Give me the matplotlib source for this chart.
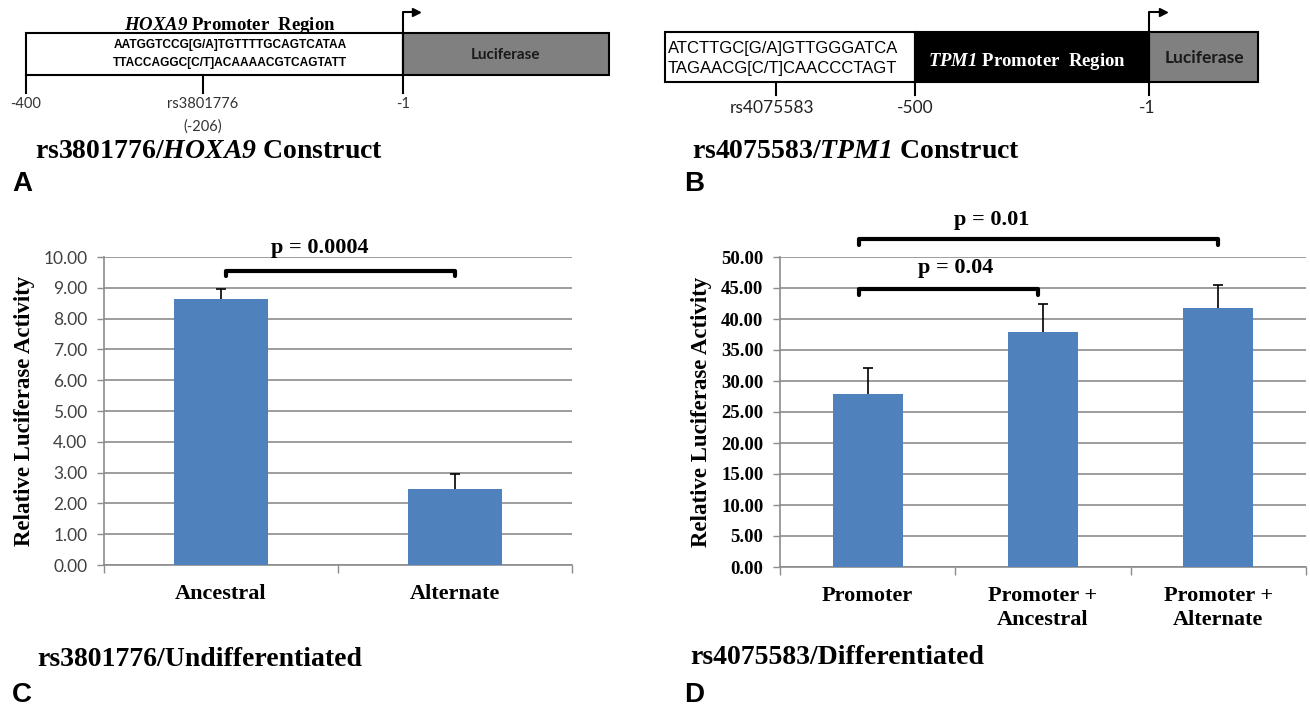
import numpy as np
import matplotlib
matplotlib.use("Agg")
import matplotlib.pyplot as plt
from matplotlib import font_manager
from matplotlib.patches import Rectangle

# --- data ---------------------------------------------------------------
c_groups = ["Ancestral", "Alternate"]
c_values = [8.65, 2.47]
c_errors = [0.32, 0.49]
c_ticks = [0, 1, 2, 3, 4, 5, 6, 7, 8, 9, 10]
c_pvalue = "p = 0.0004"

d_groups = ["Promoter", "Promoter +\nAncestral", "Promoter +\nAlternate"]
d_values = [27.9, 37.9, 41.8]
d_errors = [4.15, 4.5, 3.7]
d_ticks = [0, 5, 10, 15, 20, 25, 30, 35, 40, 45, 50]
d_pvalues = ["p = 0.04", "p = 0.01"]

titles = ["rs3801776/$\\mathit{HOXA9}$ Construct", "rs4075583/$\\mathit{TPM1}$ Construct",
          "rs3801776/Undifferentiated", "rs4075583/Differentiated"]
panel_letters = ["A", "B", "C", "D"]
hoxa9_seq = ["AATGGTCCG[G/A]TGTTTTGCAGTCATAA", "TTACCAGGC[C/T]ACAAAACGTCAGTATT"]
tpm1_seq = ["ATCTTGC[G/A]GTTGGGATCA", "TAGAACG[C/T]CAACCCTAGT"]

# --- fonts --------------------------------------------------------------
installed = {f.name for f in font_manager.fontManager.ttflist}
SERIF = "Liberation Serif"
SANS = "Lato" if "Lato" in installed else "Liberation Sans"
NARROW = "Liberation Sans Narrow" if "Liberation Sans Narrow" in installed else "Liberation Sans"
# mathtext is only used for the italic gene names, digits included
plt.rcParams["mathtext.fontset"] = "custom"
plt.rcParams["mathtext.rm"] = "Liberation Serif:italic:bold"
plt.rcParams["mathtext.it"] = "Liberation Serif:italic:bold"

BLUE = "#4F81BD"
GRID = "#8c8c8c"

fig = plt.figure(figsize=(13.1, 7.09), dpi=100)

# overlay in pixel coordinates for the construct diagrams and labels
ov = fig.add_axes([0, 0, 1, 1])
ov.set_xlim(0, 1310)
ov.set_ylim(709, 0)
ov.axis("off")

# HOXA9 construct (A)
ov.add_patch(Rectangle((26, 33), 377, 42, facecolor="white", edgecolor="black", lw=1.5))
ov.add_patch(Rectangle((403, 33), 206, 42, facecolor="#808080", edgecolor="black", lw=1.5))
ov.plot([26, 26], [75, 93], color="black", lw=1.5)
ov.plot([203, 203], [75, 93], color="black", lw=1.5)
ov.plot([403, 403, 414], [93, 12, 12], color="black", lw=1.5)
ov.plot([416], [12], marker=">", ms=6, color="black")
ov.text(230, 25, "$\\mathit{HOXA9}$ Promoter  Region", ha="center", va="center",
        fontsize=13.5, family=SERIF, weight="bold")
for i, s in enumerate(hoxa9_seq):
    ov.text(230, 45 + 18 * i, s, ha="center", va="center", fontsize=8.6,
            family=NARROW, weight="bold")
ov.text(506, 55, "Luciferase", ha="center", va="center", fontsize=11,
        family=SANS, weight="bold", color="#1a1a1a")
for x, s in [(26, "-400"), (203, "rs3801776"), (403, "-1")]:
    ov.text(x, 104, s, ha="center", va="center", fontsize=10.5, family=SANS, color="#333333")
ov.text(203, 127, "(-206)", ha="center", va="center", fontsize=10.5, family=SANS, color="#333333")

# TPM1 construct (B)
ov.add_patch(Rectangle((665, 32), 250, 50, facecolor="white", edgecolor="black", lw=1.5))
ov.add_patch(Rectangle((915, 32), 234, 50, facecolor="black", edgecolor="black", lw=1.5))
ov.add_patch(Rectangle((1149, 32), 109, 50, facecolor="#808080", edgecolor="black", lw=1.5))
ov.plot([776, 776], [82, 95], color="black", lw=1.5)
ov.plot([915, 915], [82, 95], color="black", lw=1.5)
ov.plot([1149, 1149, 1161], [95, 12, 12], color="black", lw=1.5)
ov.plot([1163], [12], marker=">", ms=6, color="black")
for i, s in enumerate(tpm1_seq):
    ov.text(668, 48 + 20 * i, s, ha="left", va="center", fontsize=12, family=NARROW)
ov.text(1027, 62, "$\\mathit{TPM1}$ Promoter  Region", ha="center", va="center",
        fontsize=13.5, family=SERIF, weight="bold", color="white")
ov.text(1204, 58, "Luciferase", ha="center", va="center", fontsize=12.5,
        family=SANS, weight="bold", color="#1a1a1a")
for x, s in [(772, "rs4075583"), (915, "-500"), (1147, "-1")]:
    ov.text(x, 108, s, ha="center", va="center", fontsize=12.5, family=SANS, color="#222222")

# titles and panel letters
for (x, y), t in zip([(35, 152), (692, 152), (37, 659), (690, 657)], titles):
    ov.text(x, y, t, ha="left", va="center", fontsize=20, family=SERIF, weight="bold")
for (x, y), l in zip([(12, 184), (684, 184), (12, 695), (684, 695)], panel_letters):
    ov.text(x, y, l, ha="left", va="center", fontsize=20, family="Liberation Sans", weight="bold")


def bar_panel(ax, groups, values, errors, ticks, tick_font, label_x):
    n = len(groups)
    x = np.arange(n)
    # symmetric error bar drawn behind the bar, so only the upper half shows
    ax.errorbar(x, values, yerr=errors, fmt="none", ecolor="black", elinewidth=1.2,
                capsize=3.5, capthick=1.2, zorder=2)
    ax.bar(x, values, width=0.4, color=BLUE, zorder=3)
    ax.set_xlim(-0.5, n - 0.5)
    ax.set_ylim(ticks[0], ticks[-1])
    ax.set_yticks(ticks)
    ax.set_yticklabels(["%.2f" % t for t in ticks], **tick_font)
    ax.set_xticks(np.arange(n + 1) - 0.5)
    ax.set_xticklabels([])
    ax.set_xticks(x, minor=True)
    ax.set_xticklabels(groups, minor=True, family=SERIF, weight="bold", fontsize=16,
                       linespacing=1.25)
    ax.tick_params(axis="x", which="major", length=6, color=GRID, width=1)
    ax.tick_params(axis="x", which="minor", length=0, pad=14)
    ax.tick_params(axis="y", length=5, color=GRID, width=1, pad=7)
    ax.grid(axis="y", color=GRID, lw=1.2)
    ax.set_axisbelow(True)
    for side in ["top", "right"]:
        ax.spines[side].set_visible(False)
    for side in ["left", "bottom"]:
        ax.spines[side].set_color(GRID)
        ax.spines[side].set_linewidth(1.2)
    ax.set_ylabel("Relative Luciferase Activity", family=SERIF, weight="bold", fontsize=16.5)
    ax.yaxis.set_label_coords(label_x, 0.5)


def bracket(ax, x0, x1, y, drop):
    ax.plot([x0, x0, x1, x1], [y - drop, y, y, y - drop], color="black", lw=3,
            solid_joinstyle="round", solid_capstyle="round", clip_on=False, zorder=5)


ptext = dict(ha="center", va="center", family=SERIF, weight="bold", fontsize=16)

axc = fig.add_axes([104 / 1310, 1 - 565 / 709, 468 / 1310, 308 / 709])
bar_panel(axc, c_groups, c_values, c_errors, c_ticks,
          dict(family=SANS, fontsize=12.5, color="#404040"), -0.147)
bracket(axc, 0.02, 1.0, 9.55, 0.18)
axc.text(0.42, 10.3, c_pvalue, clip_on=False, **ptext)

axd = fig.add_axes([780 / 1310, 1 - 567 / 709, 526 / 1310, 310 / 709])
bar_panel(axd, d_groups, d_values, d_errors, d_ticks,
          dict(family=SERIF, weight="bold", fontsize=13.5, color="black"), -0.129)
bracket(axd, -0.05, 0.97, 44.9, 1.0)
bracket(axd, -0.05, 2.0, 52.9, 1.0)
axd.text(0.5, 48.2, d_pvalues[0], clip_on=False, **ptext)
axd.text(0.71, 56.0, d_pvalues[1], clip_on=False, **ptext)

fig.savefig("out.png", dpi=100)
plt.close(fig)
